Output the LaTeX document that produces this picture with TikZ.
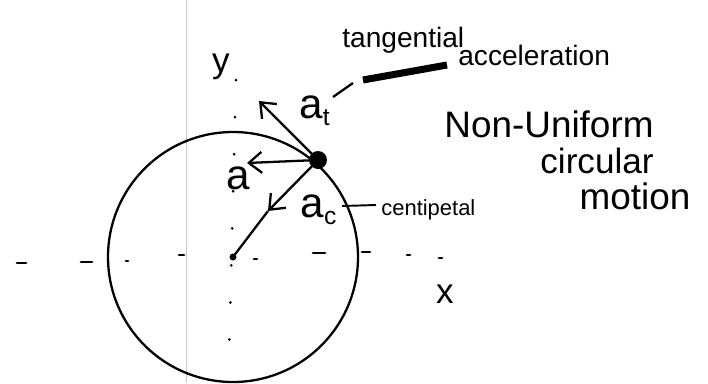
\documentclass[tikz,border=0pt]{standalone}
\usepackage{fontspec}
\setmainfont{Liberation Sans}
\usetikzlibrary{arrows.meta,positioning}

\tikzset{
  vec/.style={-{Straight Barb[length=2.6mm,width=4.2mm]}, line width=1.3pt},
  note/.style={inner sep=0pt, font=\fontsize{#1}{#1}\selectfont},
  note/.default=16,
  axis/.style={line width=1.6pt, line cap=round}
}

\begin{document}
\begin{tikzpicture}[x=0.02cm, y=-0.02cm]
        \useasboundingbox (0,0) rectangle (708,383);
        % margin line of the paper
        \draw[gray!45, line width=0.5pt] (186,0) -- (186,383);

        % axes
        \coordinate (O) at (233,257);
        \draw[axis, dash pattern=on 0.1pt off 21pt] (236,80) -- (229,358);
        \foreach \x/\y/\l in {17/263/9, 81/262/11, 126/261/2, 179/255/5, 254/259/3,
                              313/253/12, 362/252/8, 407/255/3, 439/258/3}
            \draw[axis] (\x,\y) -- ++(\l,0);
        \node (y) [note=20] at (221,67) {y};
        \node (x) [note=20] at (445,294) {x};

        % circle and point
        \draw[line width=1.3pt] (O) circle (125);
        \fill (O) circle (3.5);
        \node (P) [circle, fill, inner sep=0pt, minimum size=3.6mm] at (318,160) {};

        % vectors
        \coordinate (at) at (259,101);
        \coordinate (a) at (247,163);
        \coordinate (ac) at (268,211);
        \draw[vec] (P.center) -- (at);
        \draw[vec] (P.center) -- (a);
        \draw[vec] (P.center) -- (ac);
        \draw[line width=1.3pt] (ac) -- (O);

        \node (lat) [note=24] at (315,111) {a\textsubscript{\fontsize{14}{14}\selectfont t}};
        \node (la) [note=24] at (238,178) {a};
        \node (lac) [note=24] at (319,210) {a\textsubscript{\fontsize{14}{14}\selectfont c}};

        % notes
        \node (tang) [note=16, anchor=west] at (342,40) {tangential};
        \draw[line width=4pt] (363,80) -- (447,65);
        \node (acc) [note=16, anchor=west] at (458,55) {acceleration};
        \draw[line width=1.3pt] (333,97) -- (353,83);
        \node (cent) [note=12.5, anchor=west] at (381,210) {centipetal};
        \draw[line width=1.1pt] (342,206) -- (376,205);

        \node (t1) [note=21] at (549,124) {Non-Uniform};
        \node (t2) [note=20] at (597,161) {circular};
        \node (t3) [note=21] at (635,196) {motion};
\end{tikzpicture}
\end{document}
